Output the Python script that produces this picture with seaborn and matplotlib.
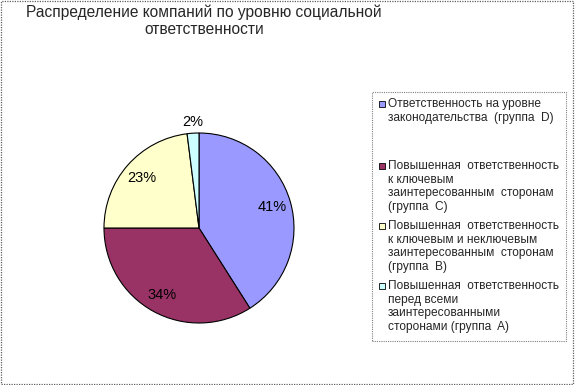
import matplotlib
matplotlib.use("Agg")
import matplotlib.pyplot as plt
import seaborn as sns
import numpy as np
from matplotlib.patches import Rectangle

# data
groups = ["D", "C", "B", "A"]
shares = [41, 34, 23, 2]
labels = [
    "Ответственность на уровне\nзаконодательства  (группа  D)",
    "Повышенная  ответственность\nк ключевым\nзаинтересованным  сторонам\n(группа  C)",
    "Повышенная  ответственность\nк ключевым и неключевым\nзаинтересованным  сторонам\n(группа  B)",
    "Повышенная  ответственность\nперед всеми\nзаинтересованными\nсторонами (группа  A)",
]
colors = ["#9999FF", "#993366", "#FFFFCC", "#CCFFFF"]
title = "Распределение компаний по уровню социальной\nответственности"

sns.set_style("white")
plt.rcParams["font.family"] = ["Liberation Sans", "DejaVu Sans"]

W, H = 575, 385
fig = plt.figure(figsize=(W / 100, H / 100), dpi=100)

# pie: center (199, 228), radius 95 px
cx, cy, r = 199, 228, 95
ax = fig.add_axes([(cx - r) / W, (H - cy - r) / H, 2 * r / W, 2 * r / H])
wedges, texts, autotexts = ax.pie(
    shares, colors=colors, startangle=90, counterclock=False,
    autopct="%1.0f%%", pctdistance=0.8,
    wedgeprops=dict(edgecolor="black", linewidth=0.8),
    textprops=dict(fontsize=10.5, color="black"),
)
ax.set_xlim(-1, 1)
ax.set_ylim(-1, 1)
ax.set_aspect("equal")
ax.axis("off")

# small slice label sits outside the pie
for w, t, v in zip(wedges, autotexts, shares):
    if v < 5:
        ang = np.deg2rad((w.theta1 + w.theta2) / 2)
        t.set_position((1.12 * np.cos(ang), 1.12 * np.sin(ang)))

fig.text(204 / W, 1 - 21 / H, title, ha="center", va="center",
         fontsize=11.2, linespacing=1.2)

# legend box drawn by hand to keep the reference's spacing
lx0, ly0, lx1, ly1 = 372, 92, 566, 341
fig.patches.append(Rectangle((lx0 / W, 1 - ly1 / H), (lx1 - lx0) / W, (ly1 - ly0) / H,
                             transform=fig.transFigure, facecolor="white",
                             edgecolor="#808080", linewidth=0.8, linestyle=(0, (1, 1))))
entry_y = [104, 166, 226, 286]
for y, lab, col in zip(entry_y, labels, colors):
    fig.patches.append(Rectangle((379 / W, 1 - (y + 3) / H), 6 / W, 6 / H,
                                 transform=fig.transFigure, facecolor=col,
                                 edgecolor="black", linewidth=0.6))
    fig.text(388 / W, 1 - (y - 6) / H, lab, ha="left", va="top",
             fontsize=8.6, linespacing=1.17)

# dotted frame round the whole picture
fig.patches.append(Rectangle((0.002, 0.003), 0.995, 0.994, transform=fig.transFigure,
                             fill=False, edgecolor="#606060", linewidth=0.9,
                             linestyle=(0, (1, 1))))

fig.savefig("out.png", dpi=100)
